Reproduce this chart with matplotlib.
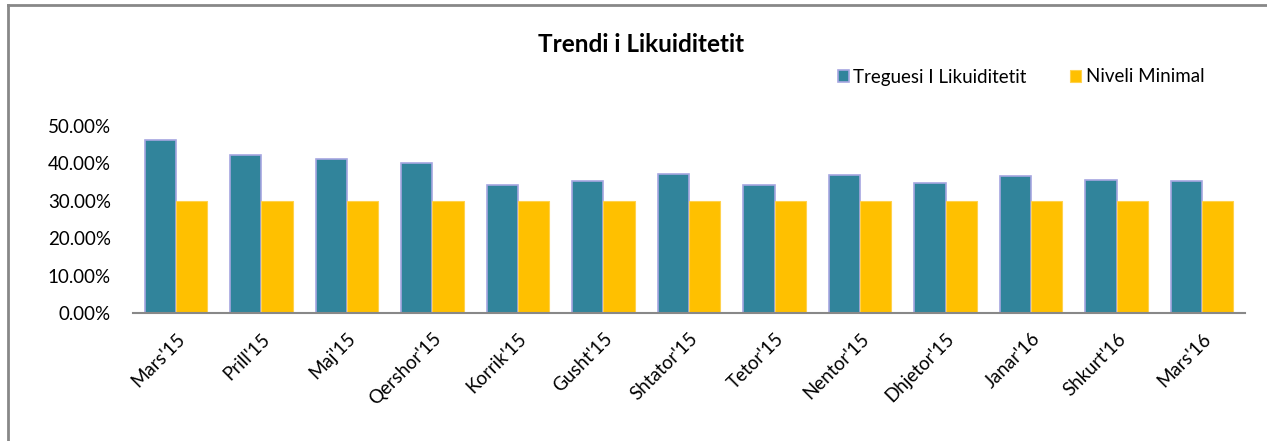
import numpy as np
import matplotlib.pyplot as plt
from matplotlib.lines import Line2D
from matplotlib.ticker import FuncFormatter

plt.rcParams['font.family'] = ['Lato', 'DejaVu Sans']

# data
muajt = ["Mars'15", "Prill'15", "Maj'15", "Qershor'15", "Korrik'15", "Gusht'15",
         "Shtator'15", "Tetor'15", "Nentor'15", "Dhjetor'15", "Janar'16",
         "Shkurt'16", "Mars'16"]
treguesi = [0.462, 0.422, 0.410, 0.401, 0.342, 0.352, 0.372, 0.342, 0.369,
            0.348, 0.367, 0.355, 0.353]
niveli = [0.30] * 13

W, H = 1267, 441
fig = plt.figure(figsize=(W / 100, H / 100), dpi=100)

# outer frame (left and top edges visible only)
fig.add_artist(Line2D([8 / W, 8 / W], [0, 1 - 5 / H], color='#888888', lw=2))
fig.add_artist(Line2D([8 / W, 1], [1 - 5 / H, 1 - 5 / H], color='#888888', lw=2))

ax = fig.add_axes([133 / W, 127.7 / H, 1112 / W, 187.7 / H])
x = np.arange(len(muajt))
bw = 0.365
ax.bar(x - bw / 2, treguesi, bw, color='#31849B', edgecolor='#A6A6E0', lw=1.2,
       label='Treguesi I Likuiditetit')
ax.bar(x + bw / 2, niveli, bw, color='#FFC000', edgecolor='#FFD24D', lw=0.8,
       label='Niveli Minimal')

ax.set_xlim(-0.5, len(muajt) - 0.5)
ax.set_ylim(0, 0.5)
ax.set_yticks(np.arange(0, 0.51, 0.1))
ax.yaxis.set_major_formatter(FuncFormatter(lambda v, p: f'{v * 100:.2f}%'))
ax.set_xticks(x)
ax.set_xticklabels(muajt, rotation=45, ha='right', rotation_mode='anchor')
ax.tick_params(axis='both', length=0, labelsize=13.5)
ax.tick_params(axis='y', pad=16)
ax.tick_params(axis='x', pad=12)
for s in ['top', 'right', 'left']:
    ax.spines[s].set_visible(False)
ax.spines['bottom'].set_color('#888888')
ax.spines['bottom'].set_linewidth(1.5)

fig.text(641 / W, 1 - 45 / H, 'Trendi i Likuiditetit', ha='center', va='center',
         fontsize=17.5, fontweight='bold')
fig.legend(loc='center right', bbox_to_anchor=(1212 / W, 1 - 77 / H), ncol=2,
           frameon=False, fontsize=13.5, handlelength=0.6, handleheight=0.6,
           handletextpad=0.25, columnspacing=2.3, borderaxespad=0)

fig.savefig('out.png', dpi=100)
